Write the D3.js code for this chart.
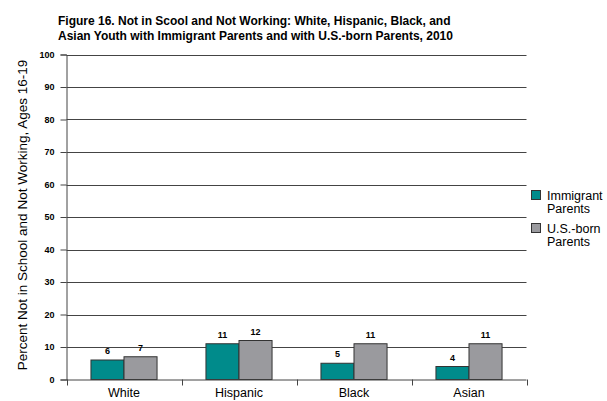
<!DOCTYPE html>
<html>
<head>
<meta charset="utf-8">
<script src="https://d3js.org/d3.v7.min.js"></script>
<style>
  html, body { margin: 0; padding: 0; background: #fff; }
  svg { display: block; font-family: "Liberation Sans", Arial, sans-serif; }
</style>
</head>
<body>
<svg id="chart" width="607" height="401"></svg>
<script>
// Share of youth ages 16-19 not in school and not working, 2010
const categories = ["White", "Hispanic", "Black", "Asian"];
const seriesNames = ["Immigrant Parents", "U.S.-born Parents"];
const immigrantValues = [6, 11, 5, 4];
const usBornValues = [7, 12, 11, 11];
const yTicks = [0, 10, 20, 30, 40, 50, 60, 70, 80, 90, 100];
const titleLines = [
  "Figure 16. Not in Scool and Not Working: White, Hispanic, Black, and",
  "Asian Youth with Immigrant Parents and with U.S.-born Parents, 2010"
];
const yTitle = "Percent Not in School and Not Working, Ages 16-19";

const colors = ["#008b8b", "#9a9a9e"];
const seriesValues = [immigrantValues, usBornValues];

const svg = d3.select("#chart");
const plot = { left: 66.5, right: 526.5, top: 54.5, bottom: 379.5 };

const x = d3.scaleBand().domain(categories).range([plot.left, plot.right]).paddingInner(0).paddingOuter(0);
const inner = d3.scaleBand().domain(d3.range(seriesNames.length)).range([0, x.bandwidth()]).paddingInner(0).paddingOuter(0.74);
const y = d3.scaleLinear().domain([0, 100]).range([plot.bottom, plot.top]);

// Title
svg.append("g").selectAll("text").data(titleLines).join("text")
  .attr("x", 58).attr("y", (d, i) => 25 + i * 14.5)
  .attr("font-size", 12).attr("font-weight", "bold").attr("fill", "#000")
  .text(d => d);

// Gridlines
svg.append("g").selectAll("line").data(yTicks.filter(t => t > 0)).join("line")
  .attr("x1", plot.left).attr("x2", plot.right)
  .attr("y1", d => Math.round(y(d)) + 0.5).attr("y2", d => Math.round(y(d)) + 0.5)
  .attr("stroke", "#444").attr("stroke-width", 1);

// Y axis
const yAxis = svg.append("g").attr("transform", `translate(${plot.left},0)`)
  .call(d3.axisLeft(y).tickValues(yTicks).tickSize(6).tickPadding(6));
yAxis.select(".domain").attr("stroke", "#444");
yAxis.selectAll(".tick line").attr("stroke", "#444");
yAxis.selectAll(".tick text").attr("font-size", 9).attr("font-weight", "bold")
  .attr("fill", "#000").attr("font-family", "Liberation Sans, Arial, sans-serif");

// Y axis title
svg.append("text")
  .attr("transform", `translate(26.5,215) rotate(-90)`)
  .attr("text-anchor", "middle").attr("font-size", 13.5).attr("fill", "#000")
  .text(yTitle);

// Bars
const groups = svg.append("g").selectAll("g").data(categories).join("g")
  .attr("transform", d => `translate(${x(d)},0)`);

groups.each(function(cat, ci) {
  const g = d3.select(this);
  seriesValues.forEach((vals, si) => {
    const v = vals[ci];
    g.append("rect")
      .attr("x", inner(si)).attr("width", inner.bandwidth())
      .attr("y", y(v)).attr("height", y(0) - y(v))
      .attr("fill", colors[si]).attr("stroke", "#333").attr("stroke-width", 1);
    g.append("text")
      .attr("x", inner(si) + inner.bandwidth() / 2).attr("y", y(v) - 6)
      .attr("text-anchor", "middle").attr("font-size", 9).attr("font-weight", "bold")
      .attr("fill", "#000").text(v);
  });
});

// X axis (baseline and category dividers)
const xAxis = svg.append("g").attr("transform", `translate(0,${plot.bottom})`);
xAxis.append("line").attr("x1", plot.left).attr("x2", plot.right)
  .attr("y1", 0.5).attr("y2", 0.5).attr("stroke", "#444");
const dividers = categories.map(c => x(c)).concat([x(categories[categories.length - 1]) + x.bandwidth()]);
xAxis.selectAll("line.div").data(dividers).join("line").attr("class", "div")
  .attr("x1", d => Math.round(d) + 0.5).attr("x2", d => Math.round(d) + 0.5)
  .attr("y1", 0).attr("y2", 6).attr("stroke", "#444");
xAxis.selectAll("text").data(categories).join("text")
  .attr("x", d => x(d) + x.bandwidth() / 2).attr("y", 17.5)
  .attr("text-anchor", "middle").attr("font-size", 12.5).attr("fill", "#000")
  .text(d => d);

// Legend
const legend = svg.append("g").attr("transform", "translate(531,190)");
const legendLines = [["Immigrant", "Parents"], ["U.S.-born", "Parents"]];
legendLines.forEach((lines, i) => {
  const lg = legend.append("g").attr("transform", `translate(0,${i * 33})`);
  lg.append("rect").attr("x", 0.5).attr("y", 0.5).attr("width", 9).attr("height", 9)
    .attr("fill", colors[i]).attr("stroke", "#333");
  lg.selectAll("text").data(lines).join("text")
    .attr("x", 16).attr("y", (d, j) => 9.5 + j * 13)
    .attr("font-size", 12.5).attr("fill", "#000").text(d => d);
});
</script>
</body>
</html>
